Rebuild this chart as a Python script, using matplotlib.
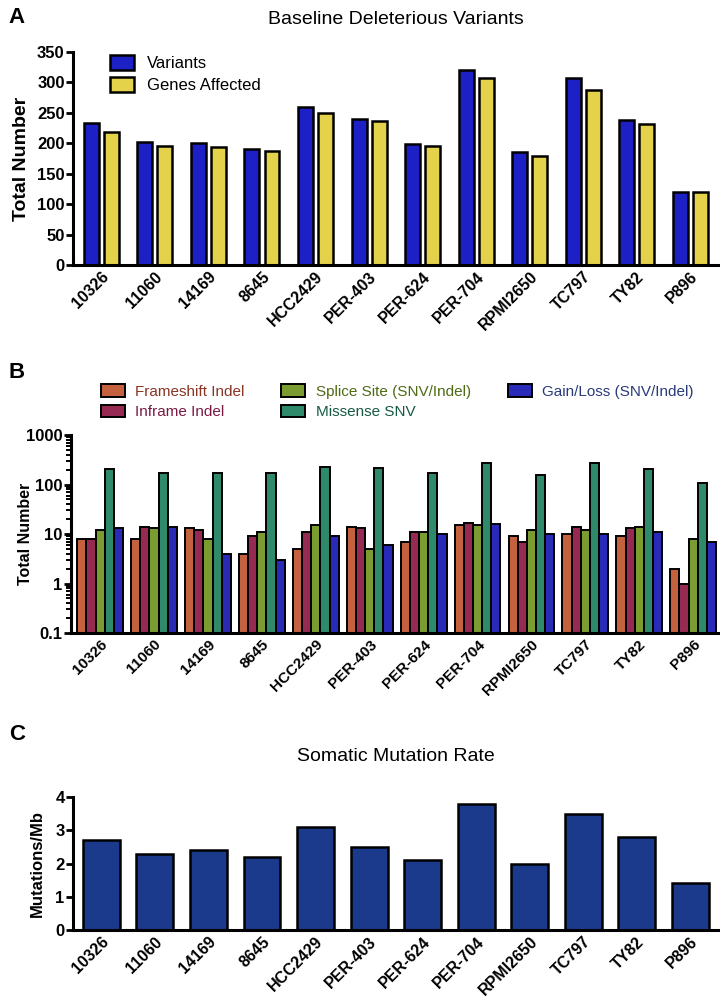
import matplotlib
matplotlib.use("Agg")
import matplotlib.pyplot as plt
import numpy as np

plt.rcParams['font.family'] = ['Liberation Sans', 'DejaVu Sans']

lines = ["10326", "11060", "14169", "8645", "HCC2429", "PER-403", "PER-624",
         "PER-704", "RPMI2650", "TC797", "TY82", "P896"]

# panel A
variants = [233, 202, 201, 190, 259, 240, 198, 320, 185, 307, 238, 120]
genes_affected = [218, 195, 194, 187, 250, 236, 196, 308, 179, 287, 231, 120]

# panel B
frameshift = [8, 8, 13, 4, 5, 14, 7, 15, 9, 10, 9, 2]
inframe = [8, 14, 12, 9, 11, 13, 11, 17, 7, 14, 13, 1]
splice = [12, 13, 8, 11, 15, 5, 11, 15, 12, 12, 14, 8]
missense = [210, 170, 175, 175, 225, 215, 170, 270, 155, 270, 210, 105]
gain_loss = [13, 14, 4, 3, 9, 6, 10, 16, 10, 10, 11, 7]
b_names = ["Frameshift Indel", "Inframe Indel", "Splice Site (SNV/Indel)",
           "Missense SNV", "Gain/Loss (SNV/Indel)"]

# panel C
mut_rate = [2.7, 2.3, 2.4, 2.2, 3.1, 2.5, 2.1, 3.8, 2.0, 3.5, 2.8, 1.4]

x = np.arange(len(lines))


def style_axes(ax, xsize, ysize):
    for s in ['top', 'right']:
        ax.spines[s].set_visible(False)
    for s in ['left', 'bottom']:
        ax.spines[s].set_linewidth(2.2)
    ax.tick_params(axis='y', width=2, length=5, pad=1, labelsize=ysize)
    ax.tick_params(axis='x', length=0, pad=3, labelsize=xsize)
    ax.set_xticks(x)
    ax.set_xticklabels(lines, rotation=45, ha='right', rotation_mode='anchor')
    for lab in ax.get_xticklabels() + ax.get_yticklabels():
        lab.set_fontweight('bold')


fig = plt.figure(figsize=(7.2, 10.01), dpi=100)

# ---- A ----
axA = fig.add_axes([0.1014, 0.7353, 0.896, 0.2128])
axA.bar(x - 0.187, variants, 0.28, color='#1d20c4', label='Variants',
        edgecolor='black', linewidth=1.8)
axA.bar(x + 0.187, genes_affected, 0.28, color='#e4d24a', label='Genes Affected',
        edgecolor='black', linewidth=1.8)
axA.set_ylim(0, 350)
axA.set_xlim(-0.53, 11.52)
axA.set_yticks(range(0, 351, 50))
style_axes(axA, 11.5, 12)
axA.set_ylabel('Total Number', fontsize=14, fontweight='bold')
axA.yaxis.set_label_coords(-0.067, 0.5)
axA.legend(loc='upper left', bbox_to_anchor=(0.153, 0.945), bbox_transform=fig.transFigure,
           frameon=False, fontsize=12, handlelength=1.45, handleheight=1.0,
           handletextpad=0.75, labelspacing=0.35, borderpad=0, borderaxespad=0)
fig.text(0.55, 0.981, 'Baseline Deleterious Variants', ha='center', va='center', fontsize=14)
fig.text(0.012, 0.983, 'A', fontsize=16, fontweight='bold', va='center')

# ---- B ----
axB = fig.add_axes([0.0986, 0.3676, 0.8986, 0.1978])
colors_b = ['#c4613e', '#962a52', '#7a9c30', '#2f8a6c', '#2a2ab8']
text_colors = ['#8a3322', '#7a1a44', '#4e6a14', '#155a44', '#2a3a78']
series_b = [frameshift, inframe, splice, missense, gain_loss]
w = 0.17
for i, (vals, c, name) in enumerate(zip(series_b, colors_b, b_names)):
    axB.bar(x + (i - 2) * w, vals, w, color=c, label=name,
            edgecolor='black', linewidth=1.4)
axB.set_yscale('log')
axB.set_ylim(0.1, 1000)
axB.set_xlim(-0.54, 11.46)
axB.set_yticks([0.1, 1, 10, 100, 1000])
axB.set_yticklabels(['0.1', '1', '10', '100', '1000'])
style_axes(axB, 11, 12)
axB.tick_params(axis='y', which='minor', width=1.4, length=3.5)
axB.set_ylabel('Total Number', fontsize=11.5, fontweight='bold')
axB.yaxis.set_label_coords(-0.059, 0.5)
leg = axB.legend(loc='upper left', bbox_to_anchor=(0.140, 0.616), bbox_transform=fig.transFigure,
                 ncol=3, frameon=False, fontsize=11, handlelength=1.56, handleheight=0.85,
                 handletextpad=0.7, columnspacing=2.4, labelspacing=0.4, borderpad=0,
                 borderaxespad=0)
for t, c in zip(leg.get_texts(), text_colors):
    t.set_color(c)
fig.text(0.012, 0.628, 'B', fontsize=16, fontweight='bold', va='center')

# ---- C ----
axC = fig.add_axes([0.1014, 0.0709, 0.896, 0.1329])
axC.bar(x, mut_rate, 0.69, color='#1b3a8c', edgecolor='black', linewidth=1.8)
axC.set_ylim(0, 4)
axC.set_xlim(-0.53, 11.52)
axC.set_yticks(range(0, 5))
style_axes(axC, 11.5, 12)
axC.set_ylabel('Mutations/Mb', fontsize=12, fontweight='bold')
axC.yaxis.set_label_coords(-0.043, 0.5)
fig.text(0.55, 0.244, 'Somatic Mutation Rate', ha='center', va='center', fontsize=14)
fig.text(0.012, 0.266, 'C', fontsize=16, fontweight='bold', va='center')

fig.savefig('out.png', dpi=100)
